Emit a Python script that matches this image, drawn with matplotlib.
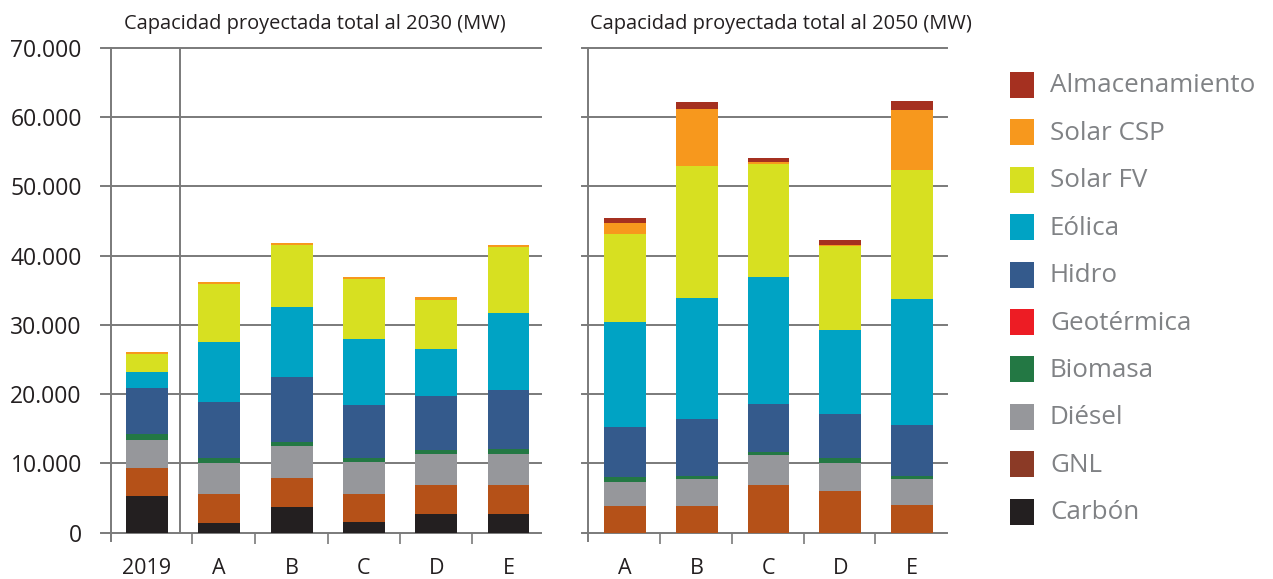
import matplotlib
matplotlib.use("Agg")
import matplotlib.pyplot as plt
from matplotlib.patches import Rectangle
import numpy as np

plt.rcParams['font.family'] = ['Open Sans', 'DejaVu Sans']

# ---------------- data ----------------
tech = ["Carbón", "GNL", "Diésel", "Biomasa", "Geotérmica", "Hidro",
        "Eólica", "Solar FV", "Solar CSP", "Almacenamiento"]

cats_2030 = ["2019", "A", "B", "C", "D", "E"]
carbon_2030 = [5350, 1350, 3650, 1500, 2650, 2650]
gnl_2030 = [4050, 4300, 4300, 4150, 4300, 4300]
diesel_2030 = [4050, 4350, 4500, 4500, 4350, 4350]
biomasa_2030 = [850, 850, 600, 700, 700, 850]
geo_2030 = [0, 0, 0, 0, 0, 0]
hidro_2030 = [6600, 8000, 9400, 7600, 7700, 8450]
eolica_2030 = [2300, 8650, 10100, 9500, 6750, 11100]
solarfv_2030 = [2600, 8350, 8950, 8650, 7200, 9500]
csp_2030 = [250, 300, 300, 300, 300, 300]
alm_2030 = [0, 0, 0, 0, 0, 0]

cats_2050 = ["A", "B", "C", "D", "E"]
carbon_2050 = [0, 0, 0, 0, 0]
gnl_2050 = [3800, 3800, 6950, 5950, 3950]
diesel_2050 = [3450, 3900, 4300, 4050, 3750]
biomasa_2050 = [850, 450, 450, 850, 450]
geo_2050 = [0, 0, 0, 0, 0]
hidro_2050 = [7150, 8200, 6900, 6300, 7450]
eolica_2050 = [15100, 17550, 18250, 12100, 18100]
solarfv_2050 = [12800, 19000, 16400, 12100, 18700]
csp_2050 = [1600, 8200, 300, 150, 8650]
alm_2050 = [700, 1000, 600, 700, 1300]

series_2030 = [carbon_2030, gnl_2030, diesel_2030, biomasa_2030, geo_2030,
               hidro_2030, eolica_2030, solarfv_2030, csp_2030, alm_2030]
series_2050 = [carbon_2050, gnl_2050, diesel_2050, biomasa_2050, geo_2050,
               hidro_2050, eolica_2050, solarfv_2050, csp_2050, alm_2050]

bar_colors = ["#231F20", "#B55118", "#96979B", "#237844", "#ED1C24",
              "#345A8C", "#00A3C4", "#D7E021", "#F7981D", "#A53020"]
legend_colors = ["#231F20", "#8B3A26", "#96979B", "#237844", "#ED1C24",
                 "#345A8C", "#00A3C4", "#D7E021", "#F7981D", "#A53020"]

yticks = [0, 10000, 20000, 30000, 40000, 50000, 60000, 70000]
ytick_labels = ["0", "10.000", "20.000", "30.000", "40.000", "50.000", "60.000", "70.000"]

titles = ["Capacidad proyectada total al 2030 (MW)",
          "Capacidad proyectada total al 2050 (MW)"]

# ---------------- figure ----------------
W, H = 1273, 579
fig = plt.figure(figsize=(W / 100, H / 100), dpi=100)

def fx(px):
    return px / W

def fy(py):
    return 1 - py / H

grid_col = "#7a7a7a"
text_col = "#231F20"

ax_top, ax_bot = 47.7, 532.7
axL = fig.add_axes([fx(111), fy(ax_bot), fx(541 - 111), (ax_bot - ax_top) / H])
axR = fig.add_axes([fx(588), fy(ax_bot), fx(947 - 588), (ax_bot - ax_top) / H])


def draw_panel(ax, cats, series, xlim, ext_px, width_px):
    x = np.arange(len(cats))
    bottom = np.zeros(len(cats))
    bw = 0.58
    for vals, col in zip(series, bar_colors):
        vals = np.array(vals, dtype=float)
        ax.bar(x, vals, bw, bottom=bottom, color=col, linewidth=0, zorder=3)
        bottom += vals
    ax.set_xlim(*xlim)
    ax.set_ylim(0, 70000)
    for s in ax.spines.values():
        s.set_visible(False)
    ext = ext_px / width_px
    for yv in yticks:
        ax.axhline(yv, xmin=-ext, xmax=1, color=grid_col, lw=1.4,
                   clip_on=False, zorder=1)
    # left spine extended below baseline
    ax.axvline(xlim[0], ymin=-8 / 485, ymax=1, color=grid_col, lw=1.4,
               clip_on=False, zorder=4)
    ax.set_xticks(x)
    ax.set_xticklabels(cats, fontsize=15.5, color=text_col)
    ax.tick_params(axis='x', which='major', length=0, pad=18)
    ax.tick_params(axis='y', length=0)
    return x


xL = draw_panel(axL, cats_2030, series_2030, (-0.498, 5.45), 10, 430)
axL.set_xticks([0.62, 1.5, 2.5, 3.5, 4.5], minor=True)
axL.tick_params(axis='x', which='minor', length=8, width=1.2, color=grid_col, direction='out')
axL.axvline(0.455, color=grid_col, lw=1.4, zorder=2)
axL.set_yticks(yticks)
axL.set_yticklabels(ytick_labels, fontsize=16.5, color=text_col)
axL.tick_params(axis='y', pad=21)

xR = draw_panel(axR, cats_2050, series_2050, (-0.516, 4.49), 6, 359)
axR.set_xticks([0.49, 1.49, 2.5, 3.49], minor=True)
axR.tick_params(axis='x', which='minor', length=8, width=1.2, color=grid_col, direction='out')
axR.set_yticks(yticks)
axR.set_yticklabels([])

fig.text(fx(314.5), fy(24), titles[0], ha='center', va='center', fontsize=14.4, color=text_col)
fig.text(fx(781), fy(24), titles[1], ha='center', va='center', fontsize=14.4, color=text_col)

# ---------------- legend ----------------
leg_order = list(range(len(tech)))[::-1]
for i, k in enumerate(leg_order):
    cy = 85 + i * 47.4
    fig.add_artist(Rectangle((fx(1010), fy(cy + 13)), fx(24), 26 / H,
                             facecolor=legend_colors[k], edgecolor='none',
                             transform=fig.transFigure))
    fig.text(fx(1050), fy(cy + 1), tech[k], ha='left', va='center',
             fontsize=18.7, color="#808285")

fig.savefig("out.png", dpi=100)
